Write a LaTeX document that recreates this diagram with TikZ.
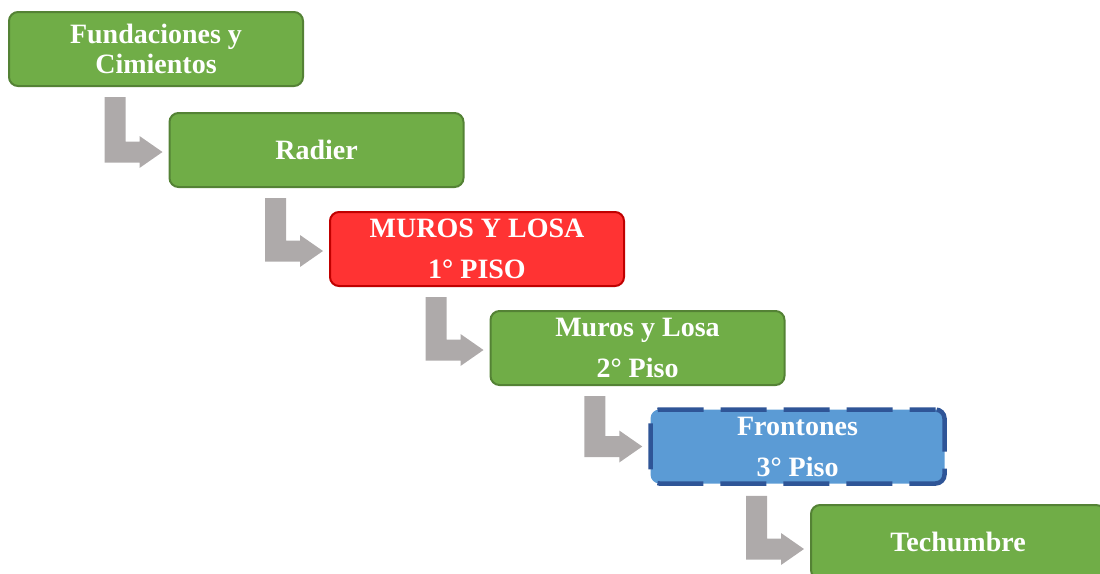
\documentclass[tikz,border=0pt]{standalone}
\usepackage{fontspec}
\setmainfont{Liberation Serif}
\usetikzlibrary{calc}

\definecolor{boxgreen}{HTML}{70AD47}
\definecolor{edgegreen}{HTML}{548235}
\definecolor{boxred}{HTML}{FF3333}
\definecolor{edgered}{HTML}{C00000}
\definecolor{boxblue}{HTML}{5B9BD5}
\definecolor{edgeblue}{HTML}{2F5597}
\definecolor{conngray}{HTML}{AEAAAA}

\tikzset{
  stagebox/.style={rectangle, rounded corners=9pt, minimum width=294pt,
    minimum height=74pt, inner sep=0pt, line width=2pt, align=center,
    text=white, font=\bfseries\fontsize{28}{41}\selectfont},
  greenbox/.style={stagebox, fill=boxgreen, draw=edgegreen},
  redbox/.style={stagebox, fill=boxred, draw=edgered},
  bluebox/.style={stagebox, fill=boxblue, draw=edgeblue, line width=4.5pt,
    dash pattern=on 46pt off 17pt, dash phase=20pt},
  connfill/.style={fill=conngray},
}

% L-shaped block arrow from the bottom of node #1 to the left side of node #2,
% #3 shifts the arrow head vertically
\newcommand\lconn[3]{%
  \fill[connfill] let \p1=(#1.south), \p2=($(#2.west)+(0,#3)$) in
    (\x2-64pt,\y1-10pt) -- (\x2-43pt,\y1-10pt) -- (\x2-43pt,\y2+10.5pt)
    -- (\x2-29pt,\y2+10.5pt) -- (\x2-29pt,\y2+16pt) -- (\x2-6pt,\y2)
    -- (\x2-29pt,\y2-16pt) -- (\x2-29pt,\y2-10.5pt) -- (\x2-64pt,\y2-10.5pt)
    -- cycle;}

\begin{document}
\begin{tikzpicture}
  \useasboundingbox (0,0) rectangle (1100pt,-573pt);
  \clip (0,0) rectangle (1100pt,-573pt);

  \node[greenbox, font=\bfseries\fontsize{28}{30}\selectfont] (fund) at (156pt,-49pt) {Fundaciones y\\Cimientos};
  \node[greenbox] (rad) at (316.5pt,-150pt) {Radier};
  \node[redbox] (m1) at (477pt,-249pt) {MUROS Y LOSA\\1° PISO};
  \node[greenbox] (m2) at (637.5pt,-348pt) {Muros y Losa\\2° Piso};
  \node[bluebox] (fr) at (797.5pt,-446.5pt) {Frontones\\3° Piso};
  \node[greenbox] (tech) at (958pt,-542pt) {Techumbre};

  \lconn{fund}{rad}{-2pt}
  \lconn{rad}{m1}{-2pt}
  \lconn{m1}{m2}{-2pt}
  \lconn{m2}{fr}{0pt}
  \lconn{fr}{tech}{-7pt}
\end{tikzpicture}
\end{document}
